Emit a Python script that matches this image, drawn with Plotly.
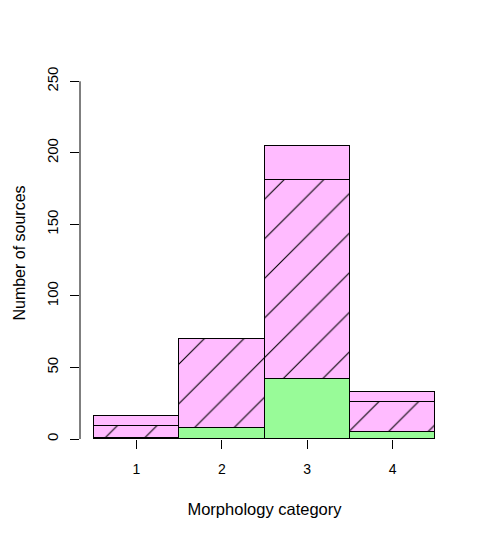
import plotly.graph_objects as go

# Morphology categories and stacked source counts
categories = [1, 2, 3, 4]
counts_green = [1, 8, 42, 5]
counts_hatched = [8, 62, 139, 21]
counts_pink = [7, 0, 24, 7]
y_ticks = [0, 50, 100, 150, 200, 250]

PINK = "#FFBBFF"
GREEN = "#98FB98"
FONT = "Liberation Sans, Arial, sans-serif"

fig = go.Figure()

fig.add_trace(go.Bar(
    x=categories, y=counts_green, width=1,
    marker=dict(color=GREEN, line=dict(color="black", width=1)),
    cliponaxis=False, showlegend=False,
))
fig.add_trace(go.Bar(
    x=categories, y=counts_hatched, width=1,
    marker=dict(
        color=PINK,
        line=dict(color="black", width=1),
        pattern=dict(shape="/", bgcolor=PINK, fgcolor="black",
                     size=28, solidity=0.038, fillmode="replace"),
    ),
    cliponaxis=False, showlegend=False,
))
fig.add_trace(go.Bar(
    x=categories, y=counts_pink, width=1,
    marker=dict(color=PINK, line=dict(color="black", width=1)),
    cliponaxis=False, showlegend=False,
))

# y axis line only spans the tick range (R style)
fig.add_shape(type="line", xref="paper", yref="y",
              x0=0, x1=0, y0=y_ticks[0], y1=y_ticks[-1],
              line=dict(color="black", width=1))

fig.update_layout(
    width=491, height=540,
    barmode="stack", bargap=0,
    plot_bgcolor="white", paper_bgcolor="white",
    font=dict(family=FONT, color="black"),
    margin=dict(l=72, r=50, t=59, b=109),
    xaxis=dict(
        range=[0.34, 4.66],
        tickvals=categories,
        ticktext=[str(c) for c in categories],
        ticks="outside", ticklen=9, tickcolor="black",
        tickfont=dict(size=14),
        ticklabelstandoff=8,
        showline=False, showgrid=False, zeroline=False,
        title=dict(text="Morphology category", font=dict(size=16.5), standoff=27),
        automargin=False,
    ),
    yaxis=dict(
        range=[0, 260],
        tickvals=y_ticks,
        tickangle=-90,
        ticks="outside", ticklen=9, tickcolor="black",
        tickfont=dict(size=15),
        ticklabelstandoff=6,
        showline=False, showgrid=False, zeroline=False,
        title=dict(text="Number of sources", font=dict(size=16), standoff=14),
        automargin=False,
    ),
)

fig.write_html("out.html")
